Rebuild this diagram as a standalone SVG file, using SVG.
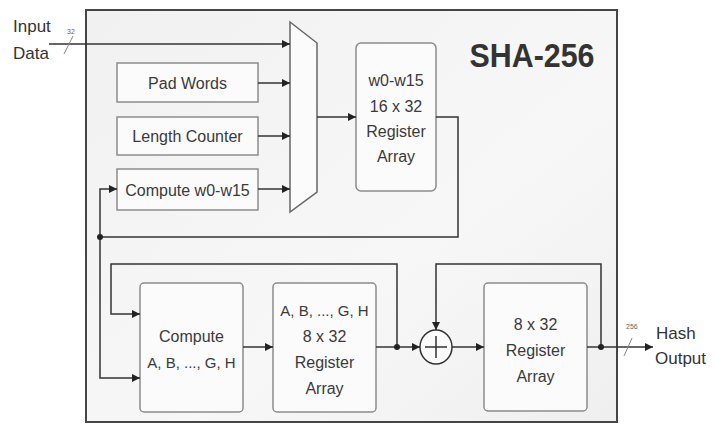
<svg xmlns="http://www.w3.org/2000/svg" width="717" height="425" viewBox="0 0 717 425">
<defs>
<linearGradient id="bg" x1="0" y1="0" x2="1" y2="1">
<stop offset="0" stop-color="#f1f1f1"/>
<stop offset="0.6" stop-color="#f7f7f7"/>
<stop offset="1" stop-color="#efefef"/>
</linearGradient>
<marker id="arr" viewBox="0 0 10 10" refX="10" refY="5" markerWidth="8" markerHeight="8" markerUnits="userSpaceOnUse" orient="auto">
<path d="M0,0 L10,5 L0,10 z" fill="#222"/>
</marker>
</defs>
<style>
.box{fill:#fbfbfb;stroke:#8c8c8c;stroke-width:1.5}
.t{font-family:"Liberation Sans",Arial,sans-serif;font-size:16px;fill:#3a3a3a;text-anchor:middle}
.s{font-size:15px}
.lbl{font-family:"Liberation Sans",Arial,sans-serif;font-size:17px;fill:#333}
.c{fill:none;stroke:#333;stroke-width:1.5}
.a{marker-end:url(#arr)}
.dot{fill:#222}
.tiny{font-family:"Liberation Sans",Arial,sans-serif;font-size:7px;fill:#666}
</style>
<rect width="717" height="425" fill="#ffffff"/>
<g id="frame">
<rect x="86" y="10" width="531" height="412" fill="url(#bg)" stroke="#454545" stroke-width="2"/>
<text x="532" y="67" font-family="'Liberation Sans',Arial,sans-serif" font-size="34" font-weight="bold" fill="#333" text-anchor="middle" textLength="125" lengthAdjust="spacingAndGlyphs">SHA-256</text>
</g>
<g id="input-label">
<text class="lbl" x="13" y="32">Input</text>
<text class="lbl" x="13" y="59">Data</text>
<text class="tiny" x="67" y="34">32</text>
</g>
<g id="pad-words"><rect class="box" x="117" y="63" width="141" height="39"/><text class="t" x="187.5" y="89">Pad Words</text></g>
<g id="length-counter"><rect class="box" x="117" y="117" width="141" height="38"/><text class="t" x="187.5" y="142">Length Counter</text></g>
<g id="compute-w"><rect class="box" x="117" y="169" width="141" height="41"/><text class="t" x="187.5" y="196">Compute w0-w15</text></g>
<g id="mux"><polygon points="290,22 317,43 317,192 290,212" fill="#fbfbfb" stroke="#666" stroke-width="1.5"/></g>
<g id="w-register"><rect class="box" x="356" y="43" width="80" height="148" rx="5"/>
<text class="t" x="396" y="86">w0-w15</text><text class="t" x="396" y="112">16 x 32</text><text class="t" x="396" y="137">Register</text><text class="t" x="396" y="162">Array</text></g>
<g id="compute-abc"><rect class="box" x="140" y="283" width="103" height="129" rx="4"/>
<text class="t" x="191.5" y="342">Compute</text><text class="t s" x="191.5" y="368">A, B, ..., G, H</text></g>
<g id="abc-register"><rect class="box" x="273" y="283" width="103" height="129" rx="4"/>
<text class="t s" x="324.5" y="316">A, B, ..., G, H</text><text class="t" x="324.5" y="342">8 x 32</text><text class="t" x="324.5" y="368">Register</text><text class="t" x="324.5" y="394">Array</text></g>
<g id="adder"><ellipse cx="436" cy="347" rx="16" ry="17" fill="#fbfbfb" stroke="#333" stroke-width="1.5"/>
<path d="M436,336 V358 M425,347 H447" stroke="#333" stroke-width="1.5" fill="none"/></g>
<g id="hash-register"><rect class="box" x="484" y="283" width="103" height="128" rx="4"/>
<text class="t" x="535.5" y="330">8 x 32</text><text class="t" x="535.5" y="356">Register</text><text class="t" x="535.5" y="382">Array</text></g>
<g id="output-label">
<text class="lbl" x="656" y="339">Hash</text>
<text class="lbl" x="655" y="364">Output</text>
<text class="tiny" x="626" y="329">256</text>
</g>
<g id="connectors">
<path class="c a" d="M49,44 H290"/>
<path d="M64,54 L73,36" stroke="#888" stroke-width="1"/>
<path class="c a" d="M258,83 H290"/>
<path class="c a" d="M258,136 H290"/>
<path class="c a" d="M258,189 H290"/>
<path class="c a" d="M317,117 H356"/>
<path class="c" d="M436,117 H458 V237 H100"/>
<path class="c a" d="M100,237 V189 H117"/>
<path class="c a" d="M100,237 V378 H140"/>
<path class="c a" d="M397,347 V264 H111 V314 H140"/>
<path class="c a" d="M243,347 H273"/>
<path class="c a" d="M376,347 H420"/>
<path class="c a" d="M452,347 H484"/>
<path class="c a" d="M587,347 H653"/>
<path class="c a" d="M601,347 V264 H436 V330"/>
<path d="M624,356 L632,338" stroke="#888" stroke-width="1"/>
<circle class="dot" cx="100" cy="237" r="3"/>
<circle class="dot" cx="397" cy="347" r="3"/>
<circle class="dot" cx="601" cy="347" r="3"/>
</g>
</svg>
